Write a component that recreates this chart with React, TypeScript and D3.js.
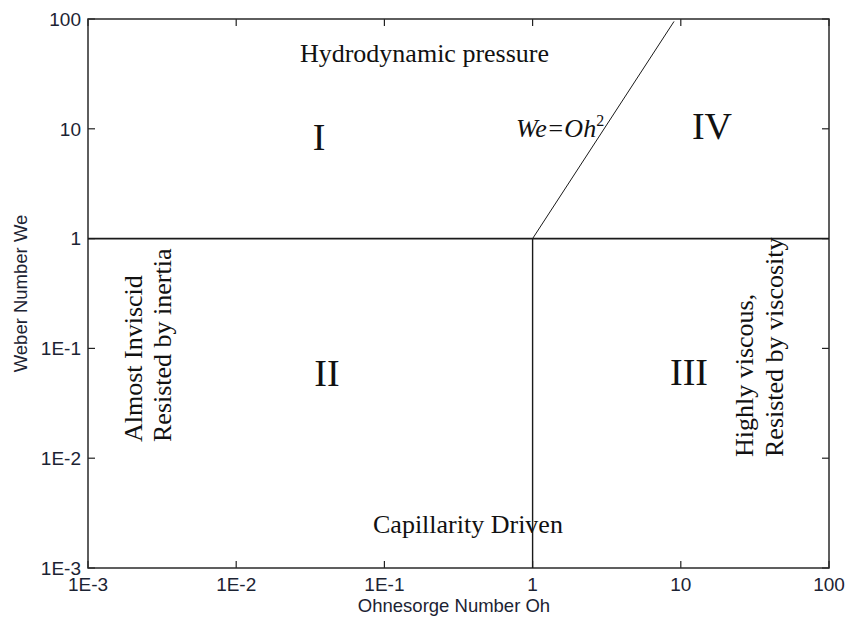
import React from "react";
import * as d3 from "d3";

const xTicks = [0.001, 0.01, 0.1, 1, 10, 100];
const yTicks = [0.001, 0.01, 0.1, 1, 10, 100];
const tickLabels = ["1E-3", "1E-2", "1E-1", "1", "10", "100"];
const weOneLine = [
  { oh: 0.001, we: 1 },
  { oh: 100, we: 1 },
];
const ohOneLine = [
  { oh: 1, we: 1 },
  { oh: 1, we: 0.001 },
];
const weOh2Line = [
  { oh: 1, we: 1 },
  { oh: 9, we: 95 },
];

const W = 848;
const H = 619;
const L = 88;
const R = 829;
const T = 19;
const B = 568;

const sans = "'Liberation Sans', Arial, sans-serif";
const serif = "'Liberation Serif', 'Times New Roman', serif";
const axisColor = "#1c2333";

export default function App() {
  const x = d3.scaleLog().domain([0.001, 100]).range([L, R]);
  const y = d3.scaleLog().domain([0.001, 100]).range([B, T]);
  const line = d3
    .line<{ oh: number; we: number }>()
    .x((d) => x(d.oh))
    .y((d) => y(d.we));
  const tl = 7;
  return (
    <svg
      width={W}
      height={H}
      style={{ position: "absolute", left: 0, top: 0, background: "#fff" }}
    >
      <rect x={0} y={0} width={W} height={H} fill="#fff" />
      {/* ticks */}
      {xTicks.map((t, i) => (
        <g key={"xt" + i}>
          <line x1={x(t)} x2={x(t)} y1={B} y2={B - tl} stroke="#222" strokeWidth={1.2} />
          <line x1={x(t)} x2={x(t)} y1={T} y2={T + tl} stroke="#222" strokeWidth={1.2} />
          <text
            x={x(t)}
            y={B + 23}
            textAnchor="middle"
            fontFamily={sans}
            fontSize={19}
            fill={axisColor}
          >
            {tickLabels[i]}
          </text>
        </g>
      ))}
      {yTicks.map((t, i) => (
        <g key={"yt" + i}>
          <line x1={L} x2={L + tl} y1={y(t)} y2={y(t)} stroke="#222" strokeWidth={1.2} />
          <line x1={R} x2={R - tl} y1={y(t)} y2={y(t)} stroke="#222" strokeWidth={1.2} />
          <text
            x={L - 7}
            y={y(t)}
            dy="0.36em"
            textAnchor="end"
            fontFamily={sans}
            fontSize={19}
            fill={axisColor}
          >
            {tickLabels[i]}
          </text>
        </g>
      ))}
      {/* frame */}
      <rect
        x={L}
        y={T}
        width={R - L}
        height={B - T}
        fill="none"
        stroke="#2a2a2a"
        strokeWidth={1.5}
      />
      {/* regime lines */}
      <path d={line(weOneLine) || ""} stroke="#1a1a1a" strokeWidth={1.6} fill="none" />
      <path d={line(ohOneLine) || ""} stroke="#1a1a1a" strokeWidth={1.4} fill="none" />
      <path d={line(weOh2Line) || ""} stroke="#1a1a1a" strokeWidth={1} fill="none" />

      {/* annotations */}
      <g fontFamily={serif} fill="#111">
        <text x={424.5} y={62} textAnchor="middle" fontSize={26}>
          Hydrodynamic pressure
        </text>
        <text x={319} y={150} textAnchor="middle" fontSize={38}>
          I
        </text>
        <text x={712} y={138.5} textAnchor="middle" fontSize={38}>
          IV
        </text>
        <text x={327} y={386} textAnchor="middle" fontSize={38}>
          II
        </text>
        <text x={689} y={385} textAnchor="middle" fontSize={38}>
          III
        </text>
        <text x={516} y={137} fontSize={26} fontStyle="italic">
          We=Oh
          <tspan fontSize={16} dy={-11} fontStyle="normal">
            2
          </tspan>
        </text>
        <text x={373} y={533} fontSize={26}>
          Capillarity Driven
        </text>
        <text transform="translate(142,442) rotate(-90)" fontSize={26}>
          Almost Inviscid
        </text>
        <text transform="translate(171,442) rotate(-90)" fontSize={26}>
          Resisted by inertia
        </text>
        <text transform="translate(753,457) rotate(-90)" fontSize={26}>
          Highly viscous,
        </text>
        <text transform="translate(783,457) rotate(-90)" fontSize={26}>
          Resisted by viscosity
        </text>
      </g>

      {/* axis titles */}
      <text
        x={454}
        y={612}
        textAnchor="middle"
        fontFamily={sans}
        fontSize={18.5}
        fill={axisColor}
      >
        Ohnesorge Number Oh
      </text>
      <text
        transform={`translate(27,${(T + B) / 2}) rotate(-90)`}
        textAnchor="middle"
        fontFamily={sans}
        fontSize={18.5}
        fill={axisColor}
      >
        Weber Number We
      </text>
    </svg>
  );
}
